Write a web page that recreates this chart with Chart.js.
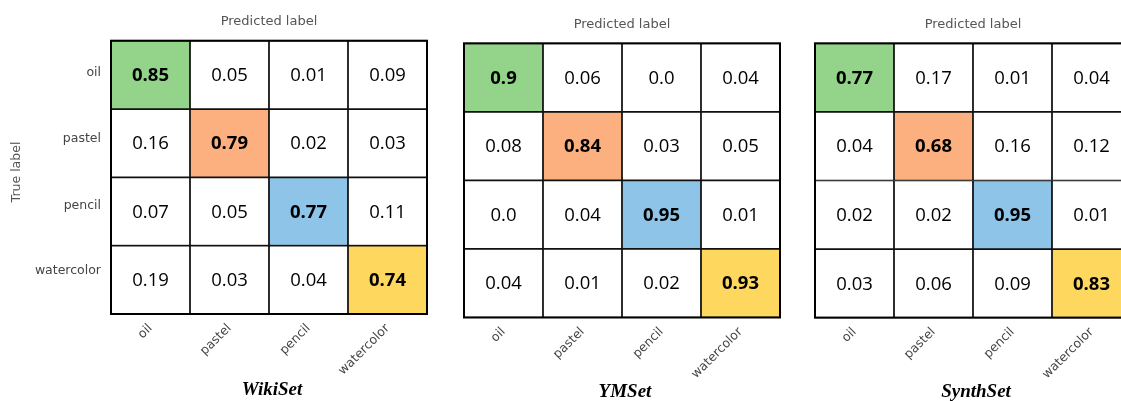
<!DOCTYPE html>
<html>
<head>
<meta charset="utf-8">
<script src="https://cdn.jsdelivr.net/npm/chart.js@4.4.1/dist/chart.umd.min.js"></script>
<style>
  html, body { margin: 0; padding: 0; background: #fff; overflow: hidden; }
  body { width: 1121px; height: 401px; position: relative; }
  .panel { position: absolute; top: 0; }
</style>
</head>
<body>
<div class="panel" style="left:0px"><canvas id="wiki" width="440" height="401"></canvas></div>
<div class="panel" style="left:440px"><canvas id="ym" width="345" height="401"></canvas></div>
<div class="panel" style="left:785px"><canvas id="synth" width="360" height="401"></canvas></div>
<script>
// Confusion matrices: rows = true label, cols = predicted label
const categories = ['oil', 'pastel', 'pencil', 'watercolor'];

const wikiSet = [
    [0.85, 0.05, 0.01, 0.09],
    [0.16, 0.79, 0.02, 0.03],
    [0.07, 0.05, 0.77, 0.11],
    [0.19, 0.03, 0.04, 0.74]
];
const ymSet = [
    [0.9, 0.06, 0.0, 0.04],
    [0.08, 0.84, 0.03, 0.05],
    [0.0, 0.04, 0.95, 0.01],
    [0.04, 0.01, 0.02, 0.93]
];
const synthSet = [
    [0.77, 0.17, 0.01, 0.04],
    [0.04, 0.68, 0.16, 0.12],
    [0.02, 0.02, 0.95, 0.01],
    [0.03, 0.06, 0.09, 0.83]
];

const diagColors = ['#93d38a', '#fdb07f', '#8ec4e8', '#fed75e'];

// 0.9 -> "0.9", 0 -> "0.0", 0.05 -> "0.05"
function fmt(v) {
    return v.toFixed(2).replace(/0$/, '');
}

// draws cell values, outer frame and the axis captions
const matrixText = {
    id: 'matrixText',
    afterDatasetsDraw(chart, args, opts) {
        const ctx = chart.ctx;
        const area = chart.chartArea;
        ctx.save();
        ctx.textAlign = 'center';
        ctx.textBaseline = 'middle';
        ctx.fillStyle = '#000';
        chart.data.datasets.forEach((ds, r) => {
            const meta = chart.getDatasetMeta(r);
            meta.data.forEach((el, c) => {
                ctx.font = (r === c ? 'bold ' : '') + '18.5px "Open Sans"';
                ctx.fillText(fmt(ds.values[c]), el.x, (el.y + el.base) / 2 + 1);
            });
        });
        ctx.strokeStyle = '#000';
        ctx.lineWidth = 2;
        ctx.strokeRect(area.left, area.top, area.right - area.left, area.bottom - area.top);

        const cx = (area.left + area.right) / 2;
        ctx.fillStyle = '#555';
        ctx.font = '13px "DejaVu Sans"';
        ctx.fillText('Predicted label', cx, opts.topY);

        ctx.fillStyle = '#000';
        ctx.font = 'bold italic 19px "Liberation Serif"';
        ctx.fillText(opts.title, cx + 3, opts.titleY);

        if (opts.trueLabel) {
            ctx.save();
            ctx.translate(17, 172);
            ctx.rotate(-Math.PI / 2);
            ctx.fillStyle = '#555';
            ctx.font = '12.5px "DejaVu Sans"';
            ctx.fillText('True label', 0, 0);
            ctx.restore();
        }
        ctx.restore();
    }
};

function makeMatrix(id, matrix, title, pad, yWidth, xHeight, showRows, topY, titleY) {
    const datasets = matrix.map((row, r) => ({
        values: row,
        data: categories.map(() => [categories.length - 1 - r, categories.length - r]),
        backgroundColor: categories.map((_, c) => c === r ? diagColors[r] : '#ffffff'),
        borderColor: '#111',
        borderWidth: 1.2,
        borderSkipped: false,
        grouped: false,
        barPercentage: 1,
        categoryPercentage: 1
    }));

    new Chart(document.getElementById(id), {
        type: 'bar',
        data: { labels: categories, datasets: datasets },
        options: {
            responsive: false,
            animation: false,
            devicePixelRatio: 1,
            layout: { padding: pad },
            plugins: {
                legend: { display: false },
                tooltip: { enabled: false },
                matrixText: { title: title, topY: topY, titleY: titleY, trueLabel: showRows }
            },
            scales: {
                x: {
                    grid: { display: false, drawTicks: false },
                    border: { display: false },
                    ticks: {
                        minRotation: 45,
                        maxRotation: 45,
                        padding: 7,
                        color: '#444',
                        font: { family: 'DejaVu Sans', size: 12.5 }
                    },
                    afterFit: s => { s.height = xHeight; }
                },
                y: {
                    display: showRows,
                    min: 0,
                    max: 4,
                    grid: { display: false, drawTicks: false },
                    border: { display: false },
                    afterBuildTicks: s => {
                        // labels sit a little above the row centres in the original
                        s.ticks = [3.53, 2.56, 1.58, 0.64].map(v => ({ value: v }));
                    },
                    ticks: {
                        padding: 10,
                        color: '#444',
                        font: { family: 'DejaVu Sans', size: 12.5 },
                        callback: (v, i) => categories[i]
                    },
                    afterFit: s => { s.width = yWidth; }
                }
            }
        },
        plugins: [matrixText]
    });
}

makeMatrix('wiki', wikiSet, 'WikiSet', { left: 0, top: 40.7, right: 13, bottom: 0 }, 111, 87, true, 22, 390);
makeMatrix('ym', ymSet, 'YMSet', { left: 24, top: 43.3, right: 5, bottom: 0 }, 0, 83.5, false, 25, 392);
makeMatrix('synth', synthSet, 'SynthSet', { left: 30, top: 43.3, right: 14, bottom: 0 }, 0, 83.3, false, 25, 392);
</script>
</body>
</html>
